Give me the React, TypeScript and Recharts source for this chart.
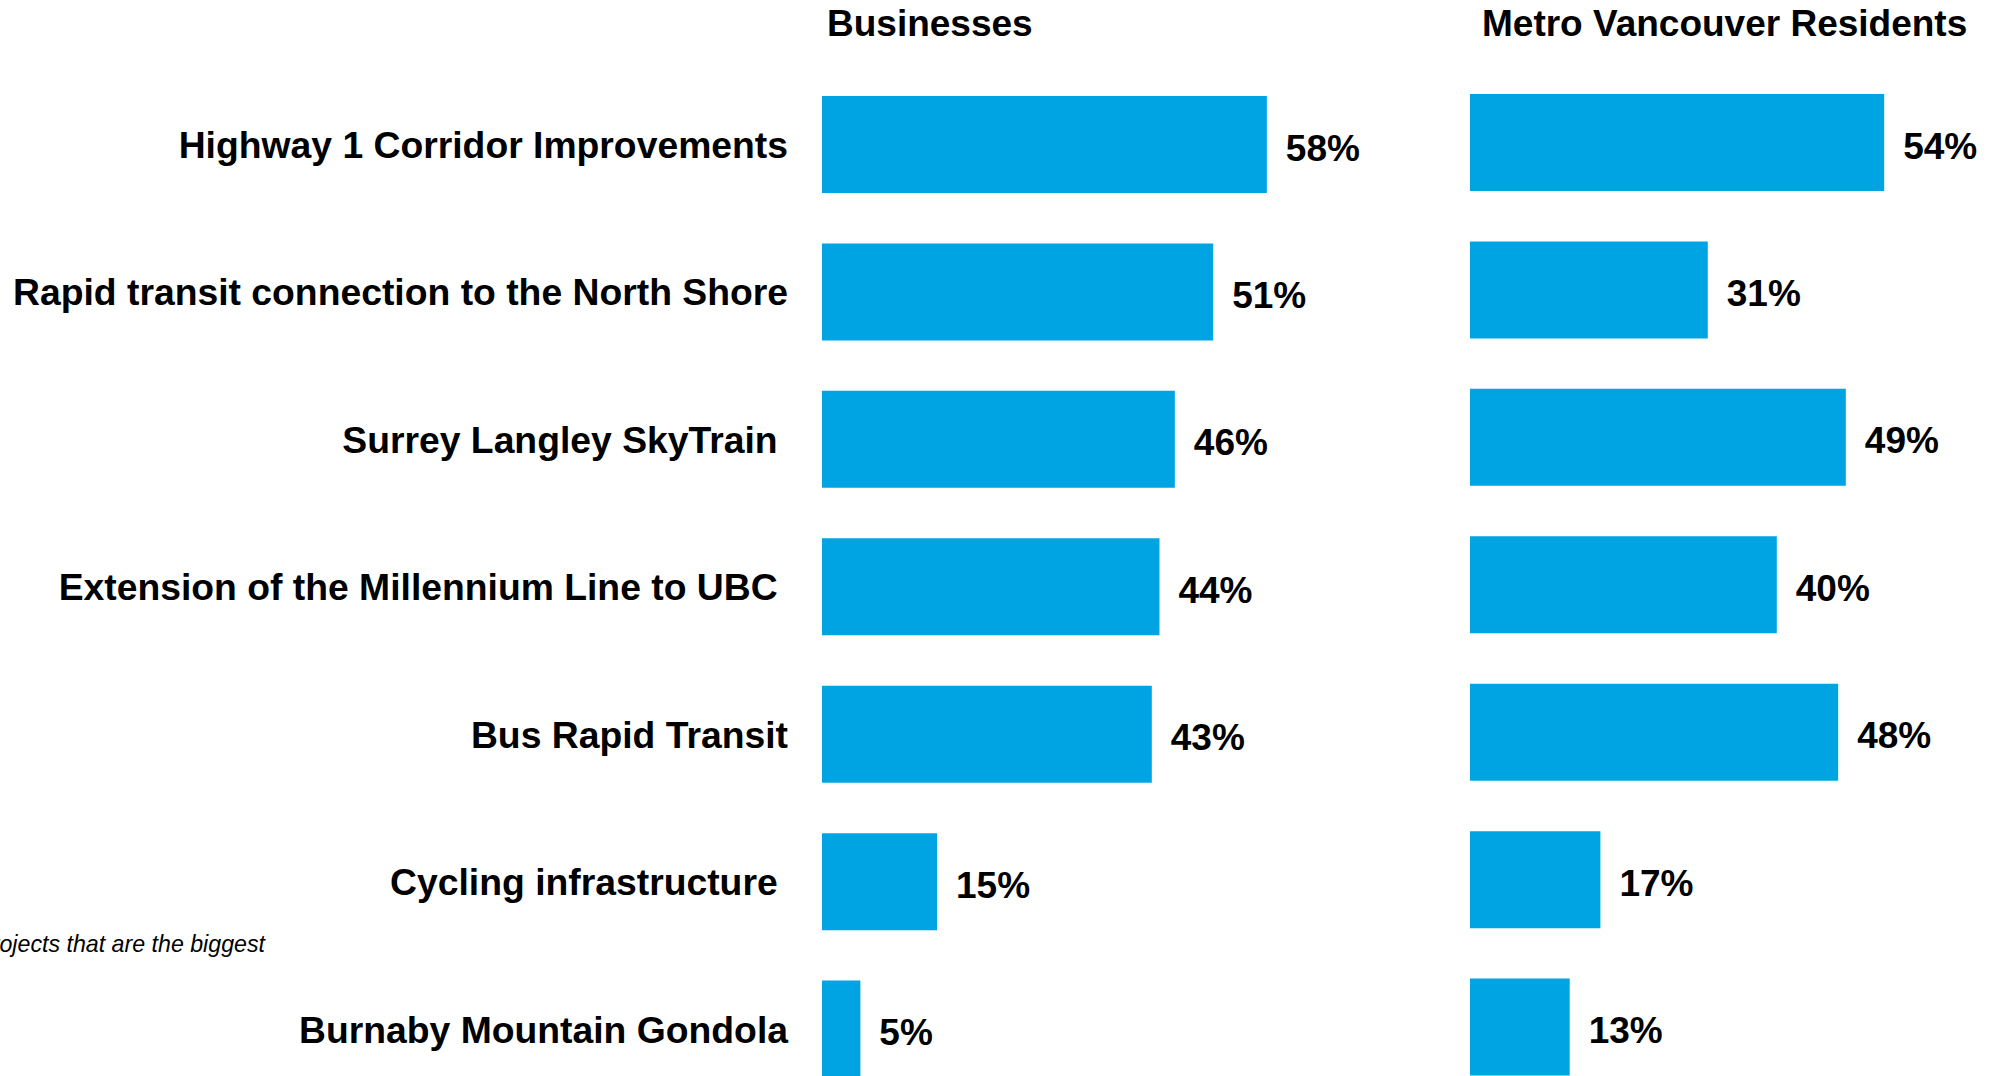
import { BarChart, Bar, XAxis, YAxis, LabelList } from 'recharts';

const categories = [
  'Highway 1 Corridor Improvements',
  'Rapid transit connection to the North Shore',
  'Surrey Langley SkyTrain\u00a0',
  'Extension of the Millennium Line to UBC\u00a0',
  'Bus Rapid Transit',
  'Cycling infrastructure\u00a0',
  'Burnaby Mountain Gondola',
];
const businesses = [58, 51, 46, 44, 43, 15, 5];
const residents = [54, 31, 49, 40, 48, 17, 13];
const panelTitles = ['Businesses', 'Metro Vancouver Residents'];
const footnote = 'projects that are the biggest';

const BLUE = '#00A4E3';
const FONT = '"Liberation Sans", Arial, sans-serif';

const rows = categories.map((name, i) => ({ name, businesses: businesses[i], residents: residents[i] }));

const labelStyle = { fill: '#000', fontSize: 37, fontWeight: 700, fontFamily: FONT };
const tickStyle = { ...labelStyle, fontSize: 37.3 };

export default function App() {
  return (
    <div
      style={{
        position: 'absolute',
        left: 0,
        top: 0,
        width: 2015,
        height: 1076,
        overflow: 'hidden',
        background: '#fff',
        fontFamily: FONT,
      }}
    >
      {/* left panel, carries the category labels */}
      <div style={{ position: 'absolute', left: 0, top: 0 }}>
        <BarChart width={1589} height={1103} data={rows} layout="vertical" margin={{ top: 71, right: 0, left: 0, bottom: 0 }}>
          <XAxis type="number" domain={[0, 100]} hide />
          <YAxis
            type="category"
            dataKey="name"
            width={822}
            axisLine={false}
            tickLine={false}
            tickSize={0}
            tickMargin={34}
            interval={0}
            tick={tickStyle}
          />
          <Bar dataKey="businesses" fill={BLUE} barSize={97} isAnimationActive={false}>
            <LabelList dataKey="businesses" position="right" offset={19} formatter={(v: number) => `${v}%`} dy={3} style={labelStyle} />
          </Bar>
        </BarChart>
      </div>

      {/* right panel */}
      <div style={{ position: 'absolute', left: 1470, top: 0 }}>
        <BarChart width={767} height={1101} data={rows} layout="vertical" margin={{ top: 69, right: 0, left: 0, bottom: 0 }}>
          <XAxis type="number" domain={[0, 100]} hide />
          <YAxis type="category" dataKey="name" hide />
          <Bar dataKey="residents" fill={BLUE} barSize={97} isAnimationActive={false}>
            <LabelList dataKey="residents" position="right" offset={19} formatter={(v: number) => `${v}%`} dy={3} style={labelStyle} />
          </Bar>
        </BarChart>
      </div>

      <svg width={2015} height={1076} style={{ position: 'absolute', left: 0, top: 0, pointerEvents: 'none' }}>
        <text x={827} y={36} fontSize={37} fontWeight={700} fontFamily={FONT} fill="#000">
          {panelTitles[0]}
        </text>
        <text x={1482} y={36} fontSize={37} fontWeight={700} fontFamily={FONT} fill="#000">
          {panelTitles[1]}
        </text>
        <text x={265} y={952} fontSize={23.2} fontStyle="italic" fontFamily={FONT} fill="#000" textAnchor="end">
          {footnote}
        </text>
      </svg>
    </div>
  );
}
